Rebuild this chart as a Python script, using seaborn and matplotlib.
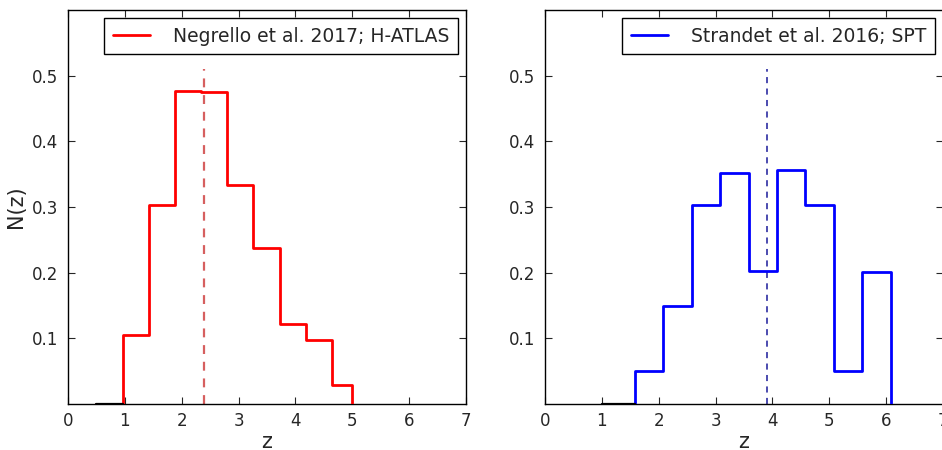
import numpy as np
import pandas as pd
import matplotlib
matplotlib.use("Agg")
import matplotlib.pyplot as plt
import seaborn as sns

# Redshift distributions (normalised counts per bin)
negrello_edges = [0.50, 0.96, 1.42, 1.88, 2.34, 2.80, 3.26, 3.72, 4.18, 4.64, 5.00]
negrello_counts = [0.0, 0.105, 0.303, 0.477, 0.475, 0.333, 0.238, 0.122, 0.098, 0.029]
negrello_median = 2.40

strandet_edges = [1.00, 1.58, 2.08, 2.58, 3.08, 3.58, 4.08, 4.58, 5.08, 5.58, 6.09]
strandet_counts = [0.0, 0.05, 0.15, 0.303, 0.352, 0.202, 0.356, 0.303, 0.05, 0.201]
strandet_median = 3.91

x_ticks = [0, 1, 2, 3, 4, 5, 6, 7]
y_ticks = [0.1, 0.2, 0.3, 0.4, 0.5]

sns.set_theme(style="ticks")
plt.rcParams["font.family"] = ["DejaVu Sans"]
plt.rcParams.update({
    "xtick.direction": "in", "ytick.direction": "in",
    "xtick.top": True, "ytick.right": True,
    "xtick.major.size": 5, "ytick.major.size": 5,
    "xtick.major.width": 0.8, "ytick.major.width": 0.8,
    "axes.edgecolor": "black", "axes.linewidth": 1.0,
    "xtick.labelsize": 12, "ytick.labelsize": 12,
    "xtick.major.pad": 6, "ytick.major.pad": 7,
})

W, H = 942, 450
fig = plt.figure(figsize=(W / 100, H / 100), dpi=100)
ax1 = fig.add_axes([68 / W, (H - 404) / H, 398 / W, 394 / H])
ax2 = fig.add_axes([545 / W, (H - 404) / H, 398 / W, 394 / H])


def step_frame(edges, counts):
    xs = np.repeat(edges, 2)
    ys = np.concatenate([[0.0], np.repeat(counts, 2), [0.0]])
    return pd.DataFrame({"z": xs, "N": ys})


def draw(ax, edges, counts, median, color, label, vcolor, vlw):
    df = step_frame(edges, counts)
    sns.lineplot(data=df, x="z", y="N", ax=ax, color=color, lw=2.0,
                 sort=False, estimator=None, label=label, zorder=3)
    base = pd.DataFrame({"z": edges[:2], "N": [0.0, 0.0]})
    sns.lineplot(data=base, x="z", y="N", ax=ax, color="black", lw=1.6,
                 sort=False, estimator=None, zorder=4, legend=False)
    ax.vlines(median, 0, 0.51, colors=vcolor, linestyles=(0, (4, 3.5)),
              lw=vlw, zorder=2)
    ax.set_xlim(0, 7)
    ax.set_ylim(0, 0.6)
    ax.set_xticks(x_ticks)
    ax.set_yticks(y_ticks)
    ax.set_yticklabels([f"{v:.1f}" for v in y_ticks])
    ax.set_xlabel("z", fontsize=15, labelpad=1)
    ax.set_ylabel("")
    for s in ax.spines.values():
        s.set_visible(True)
        s.set_color("black")
    leg = ax.legend(loc="upper right", fontsize=13.5, fancybox=False,
                    edgecolor="black", framealpha=1, handlelength=2.0,
                    handletextpad=1.2, borderpad=0.45, borderaxespad=0.45)
    leg.get_frame().set_linewidth(1.0)


draw(ax1, negrello_edges, negrello_counts, negrello_median, "#ff0000",
     "Negrello et al. 2017; H-ATLAS", "#d65f5f", 1.6)
draw(ax2, strandet_edges, strandet_counts, strandet_median, "#0000ff",
     "Strandet et al. 2016; SPT", "#1a1a9a", 1.1)
ax1.set_ylabel("N(z)", fontsize=15, labelpad=4)

fig.savefig("out.png", dpi=100)
